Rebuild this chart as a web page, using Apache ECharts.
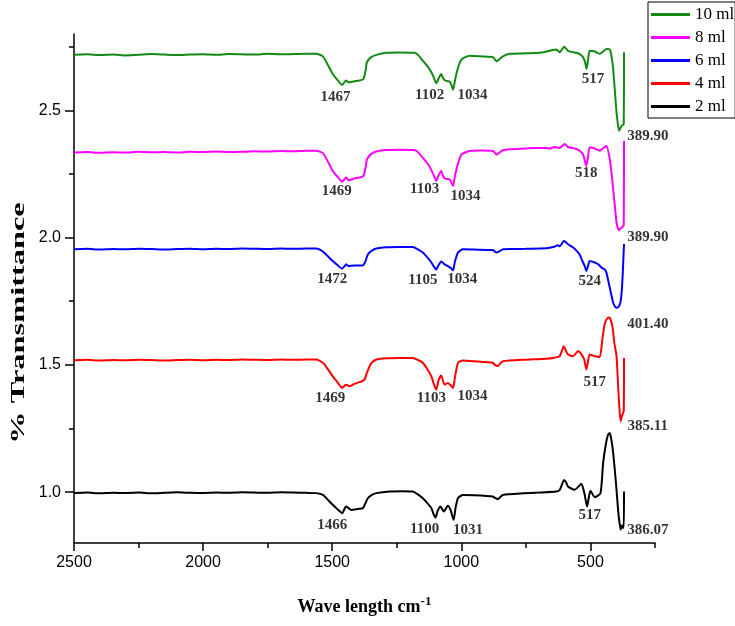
<!DOCTYPE html>
<html>
<head>
<meta charset="utf-8">
<script src="https://cdn.jsdelivr.net/npm/echarts@6/dist/echarts.min.js"></script>
<style>html,body{margin:0;padding:0;background:#fff}#c{width:735px;height:626px}</style>
</head>
<body>
<div id="c"></div>
<script>
// ---- data ----
const seriesNames = ['10 ml', '8 ml', '6 ml', '4 ml', '2 ml'];
const xTickLabels = [2500, 2000, 1500, 1000, 500];
const yTickLabels = [1.0, 1.5, 2.0, 2.5];

const s10 = [[2500,2.718],[2450,2.720],[2400,2.717],[2350,2.719],[2300,2.716],[2250,2.718],[2200,2.721],[2150,2.719],[2100,2.717],[2050,2.719],[2000,2.720],[1950,2.718],[1900,2.721],[1850,2.720],[1800,2.719],[1750,2.722],[1700,2.720],[1650,2.721],[1600,2.722],[1562,2.722],[1536,2.712],[1515,2.675],[1498,2.643],[1480,2.620],[1461,2.600],[1452,2.612],[1446,2.617],[1436,2.610],[1415,2.614],[1394,2.617],[1379,2.623],[1370,2.660],[1366,2.689],[1350,2.708],[1329,2.718],[1291,2.726],[1240,2.727],[1181,2.726],[1165,2.715],[1149,2.695],[1130,2.672],[1116,2.650],[1105,2.625],[1097,2.606],[1088,2.625],[1078,2.643],[1070,2.625],[1062,2.617],[1045,2.613],[1038,2.598],[1032,2.581],[1025,2.615],[1016,2.656],[1000,2.699],[968,2.715],[920,2.712],[877,2.709],[870,2.700],[864,2.693],[851,2.702],[839,2.712],[813,2.722],[750,2.724],[696,2.726],[671,2.731],[650,2.736],[632,2.739],[619,2.728],[602,2.750],[587,2.734],[554,2.726],[540,2.720],[529,2.709],[521,2.690],[515,2.663],[509,2.700],[503,2.734],[483,2.731],[464,2.722],[450,2.732],[438,2.741],[425,2.739],[418,2.710],[412,2.663],[405,2.570],[399,2.492],[393,2.440],[389,2.420],[384,2.430],[379,2.440],[371,2.445],[370,2.728]];
const s8 = [[2500,2.334],[2450,2.336],[2400,2.333],[2350,2.335],[2300,2.334],[2250,2.337],[2200,2.335],[2150,2.336],[2100,2.334],[2050,2.337],[2000,2.336],[1950,2.338],[1900,2.336],[1850,2.337],[1800,2.339],[1750,2.338],[1700,2.340],[1650,2.339],[1600,2.341],[1562,2.341],[1536,2.332],[1515,2.295],[1498,2.262],[1480,2.240],[1462,2.220],[1452,2.230],[1446,2.236],[1436,2.225],[1415,2.232],[1394,2.236],[1379,2.242],[1370,2.280],[1366,2.306],[1350,2.328],[1329,2.338],[1291,2.344],[1240,2.345],[1181,2.344],[1165,2.333],[1149,2.313],[1130,2.290],[1116,2.265],[1105,2.240],[1097,2.223],[1088,2.245],[1078,2.262],[1070,2.240],[1062,2.232],[1045,2.228],[1038,2.215],[1032,2.203],[1025,2.240],[1016,2.280],[1000,2.326],[968,2.340],[920,2.342],[877,2.340],[870,2.333],[864,2.326],[851,2.335],[839,2.343],[813,2.347],[750,2.350],[722,2.352],[671,2.352],[658,2.350],[640,2.356],[619,2.352],[600,2.368],[587,2.356],[560,2.350],[542,2.341],[528,2.325],[516,2.282],[509,2.320],[503,2.354],[483,2.350],[464,2.341],[450,2.352],[438,2.361],[425,2.308],[418,2.250],[412,2.190],[405,2.120],[399,2.059],[393,2.035],[389,2.029],[384,2.035],[378,2.040],[371,2.050],[370,2.380]];
const s6 = [[2500,1.954],[2450,1.956],[2400,1.953],[2350,1.955],[2300,1.954],[2250,1.956],[2200,1.955],[2150,1.953],[2100,1.955],[2050,1.956],[2000,1.954],[1950,1.956],[1900,1.955],[1850,1.957],[1800,1.956],[1750,1.955],[1700,1.957],[1650,1.956],[1600,1.957],[1562,1.957],[1536,1.945],[1515,1.925],[1498,1.908],[1480,1.892],[1462,1.878],[1452,1.888],[1446,1.895],[1436,1.888],[1415,1.890],[1394,1.890],[1381,1.891],[1372,1.905],[1362,1.934],[1345,1.950],[1329,1.957],[1290,1.962],[1240,1.963],[1188,1.963],[1170,1.955],[1149,1.941],[1130,1.920],[1116,1.902],[1105,1.884],[1097,1.875],[1088,1.892],[1078,1.906],[1065,1.895],[1052,1.888],[1040,1.880],[1032,1.871],[1025,1.905],[1013,1.941],[994,1.954],[950,1.953],[878,1.951],[870,1.945],[864,1.941],[851,1.947],[839,1.954],[800,1.955],[750,1.956],[671,1.958],[640,1.964],[626,1.970],[618,1.966],[603,1.987],[595,1.982],[587,1.974],[567,1.961],[555,1.950],[542,1.934],[530,1.905],[522,1.888],[516,1.869],[509,1.890],[503,1.908],[483,1.902],[470,1.895],[457,1.882],[445,1.875],[438,1.862],[432,1.835],[425,1.803],[418,1.770],[412,1.744],[404,1.728],[396,1.724],[390,1.730],[384,1.744],[378,1.800],[374,1.880],[370,1.975]];
const s4 = [[2500,1.518],[2450,1.520],[2400,1.517],[2350,1.519],[2300,1.518],[2250,1.520],[2200,1.519],[2150,1.517],[2100,1.519],[2050,1.520],[2000,1.518],[1950,1.520],[1900,1.519],[1850,1.521],[1800,1.520],[1750,1.519],[1700,1.521],[1650,1.520],[1600,1.521],[1562,1.521],[1536,1.508],[1515,1.480],[1498,1.455],[1480,1.432],[1462,1.409],[1452,1.418],[1446,1.422],[1433,1.416],[1415,1.425],[1394,1.432],[1375,1.442],[1366,1.468],[1350,1.505],[1329,1.521],[1290,1.526],[1240,1.527],[1188,1.527],[1170,1.520],[1149,1.508],[1130,1.480],[1116,1.455],[1105,1.420],[1097,1.403],[1088,1.440],[1078,1.458],[1065,1.422],[1052,1.429],[1040,1.418],[1032,1.409],[1025,1.450],[1013,1.508],[994,1.517],[950,1.514],[878,1.508],[870,1.500],[858,1.495],[850,1.505],[839,1.514],[760,1.520],[671,1.524],[640,1.528],[619,1.534],[603,1.573],[595,1.555],[587,1.541],[567,1.534],[548,1.554],[535,1.541],[524,1.520],[516,1.482],[509,1.515],[503,1.541],[483,1.534],[464,1.531],[454,1.600],[445,1.660],[438,1.678],[430,1.686],[425,1.685],[415,1.652],[408,1.590],[399,1.534],[393,1.420],[388,1.330],[383,1.278],[378,1.300],[371,1.320],[370,1.527]];
const s2 = [[2500,0.996],[2450,0.998],[2400,0.995],[2350,0.997],[2300,0.996],[2250,0.998],[2200,0.995],[2150,0.997],[2100,0.999],[2050,0.997],[2000,0.996],[1950,0.998],[1900,0.997],[1850,0.999],[1800,0.998],[1750,0.997],[1700,0.999],[1650,0.998],[1600,0.997],[1562,0.996],[1536,0.989],[1515,0.968],[1498,0.950],[1480,0.933],[1461,0.917],[1452,0.935],[1446,0.943],[1426,0.930],[1400,0.934],[1381,0.937],[1372,0.955],[1362,0.976],[1345,0.990],[1329,0.996],[1278,1.002],[1230,1.003],[1188,1.002],[1170,0.992],[1149,0.976],[1130,0.955],[1116,0.937],[1108,0.915],[1100,0.900],[1092,0.925],[1081,0.943],[1068,0.924],[1052,0.946],[1042,0.930],[1030,0.891],[1022,0.940],[1013,0.976],[994,0.989],[950,0.988],[878,0.983],[870,0.977],[858,0.972],[850,0.980],[839,0.989],[760,0.995],[700,0.998],[632,1.002],[619,1.008],[602,1.048],[595,1.040],[587,1.022],[561,1.009],[548,1.020],[535,1.033],[522,0.989],[513,0.943],[507,0.975],[500,1.005],[483,0.980],[461,0.996],[451,1.114],[440,1.190],[432,1.225],[425,1.232],[418,1.200],[412,1.154],[405,1.080],[399,1.009],[393,0.930],[389,0.891],[383,0.852],[379,0.870],[375,0.860],[371,0.860],[370,1.002]];

// peak annotations: [wavenumber, value, text]
const labels10 = [[1487,2.551,'1467'],[1123,2.561,'1102'],[957,2.561,'1034'],[490,2.623,'517'],[278,2.399,'389.90']];
const labels8 = [[1482,2.182,'1469'],[1142,2.190,'1103'],[984,2.163,'1034'],[516,2.253,'518'],[278,2.001,'389.90']];
const labels6 = [[1500,1.836,'1472'],[1149,1.832,'1105'],[996,1.836,'1034'],[503,1.829,'524'],[278,1.659,'401.40']];
const labels4 = [[1508,1.370,'1469'],[1116,1.370,'1103'],[957,1.376,'1034'],[483,1.432,'517'],[278,1.261,'385.11']];
const labels2 = [[1500,0.869,'1466'],[1142,0.855,'1100'],[974,0.849,'1031'],[503,0.911,'517'],[278,0.851,'386.07']];

const colors = ['#138a13', '#ff00ff', '#0000ff', '#ff0000', '#000000'];
const seriesData = [s10, s8, s6, s4, s2];
const allLabels = [].concat(labels10, labels8, labels6, labels4, labels2);

const serif = '"Liberation Serif","Times New Roman",serif';
const sans = '"Liberation Sans",Arial,sans-serif';

const chart = echarts.init(document.getElementById('c'), null, {renderer: 'canvas'});

const lineSeries = seriesNames.map((n, i) => ({
  name: n, type: 'line', data: seriesData[i], symbol: 'none', smooth: 0.2,
  lineStyle: {color: colors[i], width: 2}, itemStyle: {color: colors[i]},
  xAxisIndex: 0, yAxisIndex: 0, z: 3
}));

const labelSeries = {
  type: 'scatter', symbolSize: 0, silent: true, z: 5,
  data: allLabels.map(d => ({value: [d[0], d[1]], name: d[2]})),
  label: {show: true, position: 'inside', formatter: p => p.name,
    fontFamily: serif, fontWeight: 'bold', fontSize: 15, color: '#000'},
  xAxisIndex: 0, yAxisIndex: 0
};

const axisLineStyle = {show: true, lineStyle: {color: '#000', width: 1.5}};

chart.setOption({
  animation: false,
  backgroundColor: '#fff',
  grid: {left: 74, right: 80, top: 34, bottom: 83, containLabel: false},
  legend: {
    data: seriesNames, orient: 'vertical', left: 648, top: 2,
    padding: [4, 1, 3, 3], itemGap: 6, itemWidth: 39, itemHeight: 3,
    icon: 'rect', borderColor: '#000', borderWidth: 1, selectedMode: false,
    textStyle: {fontFamily: serif, fontSize: 17, color: '#000', lineHeight: 17}
  },
  xAxis: [{
    type: 'value', inverse: true, min: 250, max: 2500, interval: 250,
    axisLine: axisLineStyle, splitLine: {show: false},
    axisTick: {show: true, length: 5, inside: false, lineStyle: {color: '#000', width: 1.5}},
    axisLabel: {show: true, margin: 12, fontFamily: sans, fontSize: 16, color: '#000',
      formatter: v => (xTickLabels.indexOf(v) >= 0 ? String(v) : '')},
    name: '{a|Wave length cm}{b|-1}', nameLocation: 'middle', nameGap: 52,
    nameTextStyle: {rich: {
      a: {fontFamily: serif, fontWeight: 'bold', fontSize: 18, color: '#000'},
      b: {fontFamily: serif, fontWeight: 'bold', fontSize: 13, color: '#000', verticalAlign: 'bottom', padding: [0, 0, 12, 0]}
    }}
  }, {
    type: 'value', inverse: true, min: 250, max: 2500, position: 'bottom', offset: 0,
    axisLine: {show: false}, splitLine: {show: false}, axisLabel: {show: false},
    axisTick: {show: true, length: 8, customValues: xTickLabels, lineStyle: {color: '#000', width: 1.5}}
  }],
  yAxis: [{
    type: 'value', min: 0.8, max: 2.8, position: 'left',
    axisLine: axisLineStyle, splitLine: {show: false},
    axisTick: {show: true, length: 5, customValues: [1.0, 1.25, 1.5, 1.75, 2.0, 2.25, 2.5, 2.75], lineStyle: {color: '#000', width: 1.5}},
    axisLabel: {show: true, margin: 13, fontFamily: sans, fontSize: 16, color: '#000',
      customValues: yTickLabels, formatter: v => Number(v).toFixed(1)}
  }, {
    type: 'value', min: 0.8, max: 2.8, position: 'left', offset: 0,
    axisLine: {show: false}, splitLine: {show: false}, axisLabel: {show: false},
    axisTick: {show: true, length: 9, customValues: yTickLabels, lineStyle: {color: '#000', width: 1.5}}
  }],
  graphic: [{
    type: 'text', x: 19, y: 323, rotation: Math.PI / 2, scaleX: 1.8,
    style: {text: '% Transmittance', font: 'bold 18px ' + serif, fill: '#000',
      textAlign: 'center', textVerticalAlign: 'middle'}
  }],
  series: lineSeries.concat([labelSeries])
});
</script>
</body>
</html>
